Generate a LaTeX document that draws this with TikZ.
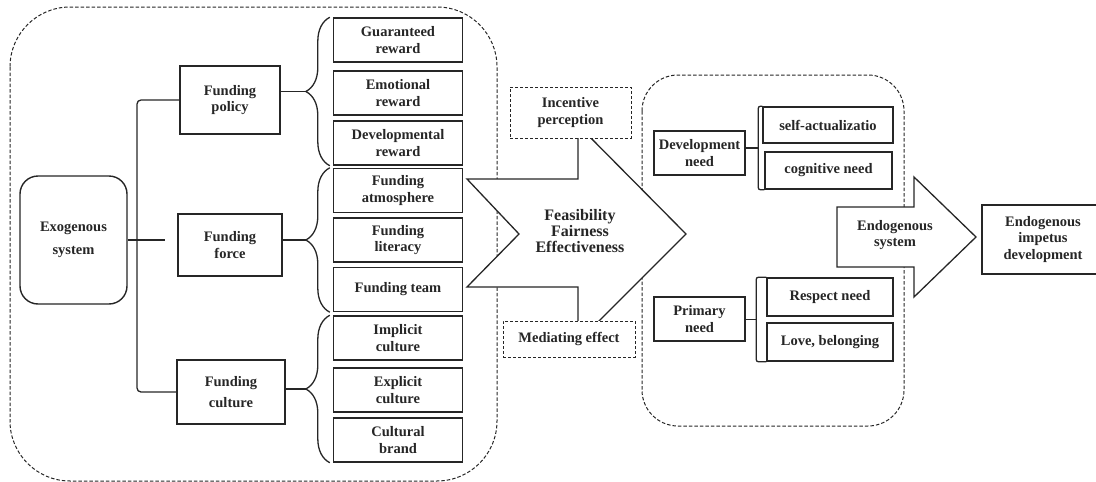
\documentclass[tikz,border=0pt]{standalone}
\usepackage{fontspec}
\setmainfont{Liberation Serif}
\usetikzlibrary{calc}
\usetikzlibrary{positioning}
\usetikzlibrary{decorations.pathreplacing}
\colorlet{myline}{black!85}

\tikzset{
    box/.style={draw=myline, text=myline, line width=1.4pt, fill=white, align=center,
        inner sep=0pt, font=\fontsize{14.5}{16.5}\selectfont\bfseries},
    dbox/.style={box, line width=1pt, dash pattern=on 3pt off 2pt},
    region/.style={draw=myline, line width=1pt, dash pattern=on 3.5pt off 2pt},
    fbrace/.style={draw=myline, line width=1.3pt, decorate, decoration={brace, amplitude=24pt}},
    bigarrow/.style={draw=myline, line width=1.3pt, fill=white},
    link/.style={draw=myline, line width=1.3pt},
}

\begin{document}
\begin{tikzpicture}[x=1pt, y=-1pt]

    \useasboundingbox (0,0) rectangle (1096,482);

    % 两个虚线区域
    \draw[region, rounded corners=60] (10,7) rectangle (497,481);
    \draw[region, rounded corners=36] (642,75) rectangle (904,426);

    % 外生系统及三个一级方框
    \node[box, rounded corners=18, minimum width=107, minimum height=128] (exo) at (73.5,240) {Exogenous\\[7pt]system};
    \node[box, minimum width=100, minimum height=68] (pol) at (230,100) {Funding\\policy};
    \node[box, minimum width=104, minimum height=62] (frc) at (230,245) {Funding\\force};
    \node[box, minimum width=108, minimum height=64] (cul) at (231,392) {Funding\\[4pt]culture};

    % 右列九个方框
    \foreach \nm/\yy/\txt in {gr/40/{Guaranteed\\reward}, er/93/{Emotional\\reward},
        dr/143/{Developmental\\reward}, fa/190.5/{Funding\\atmosphere}, fl/240/{Funding\\literacy},
        ft/289.5/{Funding team}, ic/338/{Implicit\\culture}, ec/390/{Explicit\\culture},
        cb/440/{Cultural\\brand}}{
        \node[box, minimum width=129, minimum height=44] (\nm) at (398,\yy) {\txt};
    }

    % 树形连线
    \coordinate (trunk) at (137,240);
    \coordinate (frcin) at (165,240);
    \draw[link, rounded corners=4] (pol.west) -| (trunk) |- (cul.west);
    \draw[link] (exo.east) -- (frcin);

    % 花括号
    \foreach \p/\a/\b in {pol/gr/dr, frc/fa/ft, cul/ic/cb}{
        \draw[fbrace] ([xshift=-3pt]\b.south west) -- ([xshift=-3pt]\a.north west);
        \coordinate (t\p) at ($(\a.north west)!0.5!(\b.south west)+(-27,0)$);
        \draw[link] (\p.east |- t\p) -- (t\p);
    }

    % 中间大箭头
    \draw[bigarrow] (467,179) -- (578,179) -- (578,125) -- (686,234) -- (578,342)
        -- (578,287) -- (467,287) -- (519,234) -- cycle;
    \node[font=\fontsize{16}{16}\selectfont\bfseries, text=myline, align=center] (ffe) at (580,231)
        {Feasibility\\Fairness\\Effectiveness};

    % 虚线标签
    \node[dbox, minimum width=121, minimum height=51] (inc) at (570.5,112.5) {Incentive\\perception};
    \node[dbox, minimum width=132, minimum height=36] (med) at (569,339) {Mediating effect};

    % 内生需要
    \node[box, minimum width=91, minimum height=44] (dev) at (699.5,153) {Development\\need};
    \node[box, minimum width=91, minimum height=44] (pri) at (699.5,319) {Primary\\need};
    \node[box, minimum width=130, minimum height=36] (sa) at (828,125) {self-actualizatio};
    \node[box, minimum width=127, minimum height=37] (cn) at (828.5,170.5) {cognitive need};
    \node[box, minimum width=126, minimum height=38] (rn) at (830,297) {Respect need};
    \node[box, minimum width=126, minimum height=38] (lb) at (830,342) {Love, belonging};

    % 方括号
    \foreach \p/\a/\b/\d in {dev/sa/cn/5, pri/rn/lb/10}{
        \coordinate (k\p) at ($(\a.north west)!0.5!(\b.south west)+(-\d,0)$);
        \draw[link, rounded corners=2] (\a.north west) -| (k\p) |- (\b.south west);
        \draw[link] (\p.east |- k\p) -- (k\p);
    }

    % 内生系统箭头
    \draw[bigarrow] (837,207) -- (914,207) -- (914,177) -- (976,237) -- (914,297)
        -- (914,267) -- (837,267) -- cycle;
    \node[box, draw=none, fill=none] (ens) at (895,235) {Endogenous\\system};
    \node[box, minimum width=122, minimum height=69] (eid) at (1043,239.5) {Endogenous\\impetus\\development};

\end{tikzpicture}
\end{document}
